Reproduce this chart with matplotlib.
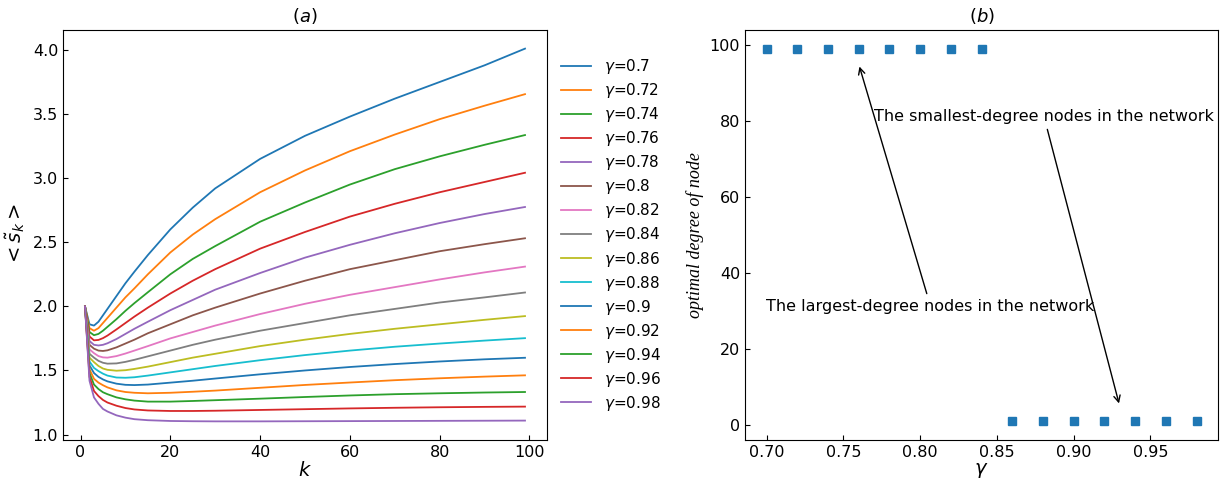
import matplotlib
matplotlib.use('Agg')
import matplotlib.pyplot as plt

# panel (a): <s_k> against k, one curve per gamma
k = [1, 2, 3, 4, 5, 6, 8, 10, 12, 15, 20, 25, 30, 40, 50, 60, 70, 80, 90, 99]

s_070 = [2.0, 1.86, 1.85, 1.88, 1.93, 1.98, 2.08, 2.18, 2.27, 2.40, 2.60, 2.77, 2.92, 3.15, 3.33, 3.48, 3.62, 3.75, 3.88, 4.01]
s_072 = [2.0, 1.83, 1.81, 1.83, 1.87, 1.91, 1.99, 2.07, 2.14, 2.25, 2.42, 2.56, 2.68, 2.89, 3.06, 3.21, 3.34, 3.46, 3.565, 3.655]
s_074 = [2.0, 1.80, 1.775, 1.785, 1.81, 1.84, 1.90, 1.965, 2.025, 2.11, 2.25, 2.37, 2.47, 2.66, 2.81, 2.95, 3.07, 3.17, 3.26, 3.336]
s_076 = [2.0, 1.765, 1.735, 1.738, 1.752, 1.772, 1.82, 1.87, 1.92, 1.99, 2.10, 2.20, 2.29, 2.45, 2.58, 2.70, 2.80, 2.89, 2.97, 3.042]
s_078 = [2.0, 1.73, 1.70, 1.695, 1.70, 1.712, 1.745, 1.785, 1.825, 1.88, 1.97, 2.05, 2.13, 2.26, 2.38, 2.48, 2.57, 2.65, 2.72, 2.775]
s_080 = [2.0, 1.70, 1.67, 1.655, 1.652, 1.657, 1.68, 1.71, 1.74, 1.79, 1.86, 1.93, 1.99, 2.10, 2.20, 2.29, 2.36, 2.43, 2.485, 2.531]
s_082 = [2.0, 1.665, 1.635, 1.612, 1.602, 1.60, 1.612, 1.632, 1.655, 1.69, 1.75, 1.80, 1.85, 1.94, 2.02, 2.09, 2.15, 2.21, 2.265, 2.31]
s_084 = [2.0, 1.63, 1.60, 1.575, 1.56, 1.553, 1.555, 1.567, 1.583, 1.61, 1.655, 1.70, 1.74, 1.81, 1.87, 1.93, 1.98, 2.03, 2.07, 2.108]
s_086 = [2.0, 1.60, 1.565, 1.535, 1.515, 1.505, 1.498, 1.502, 1.512, 1.53, 1.565, 1.60, 1.63, 1.69, 1.74, 1.785, 1.825, 1.86, 1.895, 1.924]
s_088 = [2.0, 1.57, 1.52, 1.495, 1.475, 1.46, 1.445, 1.443, 1.447, 1.46, 1.485, 1.51, 1.535, 1.58, 1.62, 1.655, 1.685, 1.71, 1.733, 1.752]
s_090 = [2.0, 1.54, 1.48, 1.45, 1.43, 1.415, 1.397, 1.388, 1.386, 1.39, 1.405, 1.42, 1.437, 1.47, 1.50, 1.527, 1.55, 1.57, 1.587, 1.599]
s_092 = [2.0, 1.51, 1.435, 1.405, 1.385, 1.368, 1.345, 1.332, 1.326, 1.322, 1.326, 1.334, 1.343, 1.365, 1.387, 1.406, 1.424, 1.439, 1.452, 1.462]
s_094 = [2.0, 1.48, 1.39, 1.355, 1.33, 1.315, 1.29, 1.275, 1.265, 1.257, 1.257, 1.262, 1.268, 1.28, 1.293, 1.305, 1.315, 1.322, 1.328, 1.332]
s_096 = [2.0, 1.45, 1.34, 1.30, 1.27, 1.25, 1.225, 1.207, 1.196, 1.188, 1.184, 1.184, 1.186, 1.192, 1.198, 1.204, 1.209, 1.213, 1.216, 1.218]
s_098 = [2.0, 1.42, 1.29, 1.24, 1.20, 1.18, 1.15, 1.132, 1.12, 1.112, 1.106, 1.104, 1.103, 1.103, 1.104, 1.105, 1.106, 1.107, 1.108, 1.109]

gammas = ['0.7', '0.72', '0.74', '0.76', '0.78', '0.8', '0.82', '0.84',
          '0.86', '0.88', '0.9', '0.92', '0.94', '0.96', '0.98']
curves = [s_070, s_072, s_074, s_076, s_078, s_080, s_082, s_084,
          s_086, s_088, s_090, s_092, s_094, s_096, s_098]

# panel (b): optimal degree for each gamma
gamma_b = [0.70, 0.72, 0.74, 0.76, 0.78, 0.80, 0.82, 0.84,
           0.86, 0.88, 0.90, 0.92, 0.94, 0.96, 0.98]
opt_degree = [99, 99, 99, 99, 99, 99, 99, 99, 1, 1, 1, 1, 1, 1, 1]

fig = plt.figure(figsize=(12.29, 4.84), dpi=100)
ax1 = fig.add_axes([63 / 1229, 44 / 484, 484 / 1229, 410 / 484])
ax2 = fig.add_axes([745 / 1229, 44 / 484, 473 / 1229, 410 / 484])

for g, s in zip(gammas, curves):
    ax1.plot(k, s, lw=1.3, label=r'$\gamma$=' + g)
ax1.set_title('$(a)$', fontsize=13)
ax1.set_xlabel('$k$', fontsize=14, labelpad=1)
ax1.set_ylabel(r'$<\tilde{s}_k>$', fontsize=14)
ax1.tick_params(direction='in', labelsize=11.5)
ax1.legend(loc='center left', bbox_to_anchor=(1.0, 0.5), frameon=False,
           fontsize=11, labelspacing=0.33)

ax2.plot(gamma_b, opt_degree, 's', color='tab:blue', ms=6)
ax2.set_title('$(b)$', fontsize=13)
ax2.set_xlabel(r'$\gamma$', fontsize=14, labelpad=1)
ax2.set_ylabel('optimal degree of node', fontsize=13, family='Liberation Serif', style='italic')
ax2.tick_params(direction='in', labelsize=11.5)
ax2.annotate('The largest-degree nodes in the network', xy=(0.76, 95), xytext=(0.70, 30),
             fontsize=11.5, arrowprops=dict(arrowstyle='->', color='black', lw=1))
ax2.annotate('The smallest-degree nodes in the network', xy=(0.93, 5), xytext=(0.77, 80),
             fontsize=11.5, arrowprops=dict(arrowstyle='->', color='black', lw=1))

fig.savefig('out.png', dpi=100)
